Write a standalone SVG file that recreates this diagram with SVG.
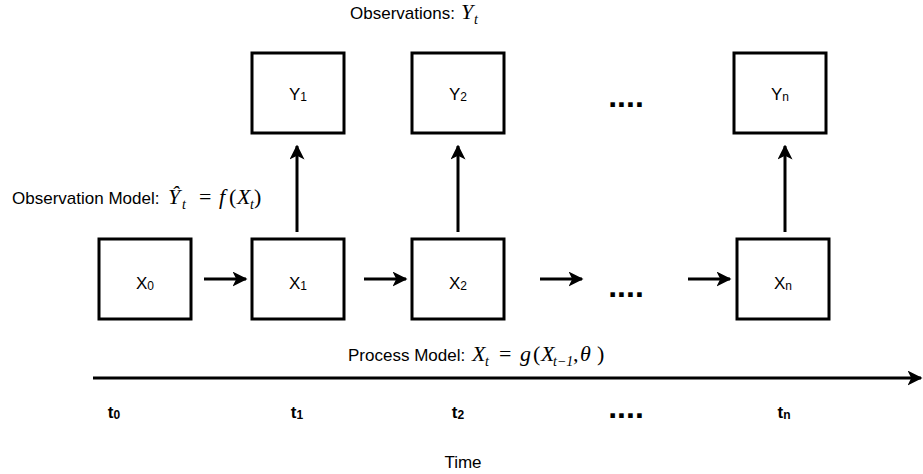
<svg xmlns="http://www.w3.org/2000/svg" width="923" height="474" viewBox="0 0 923 474">
  <defs>
    <marker id="arrow" viewBox="0 0 10 10" refX="9" refY="5" markerWidth="5" markerHeight="5" markerUnits="strokeWidth" orient="auto">
      <path d="M0,0 L10,5 L0,10 L2.5,5 Z" fill="#000"/>
    </marker>
    <style>
      .box { fill: #fff; stroke: #000; stroke-width: 3; }
      .lbl { font-family: "Liberation Sans", Arial, sans-serif; font-size: 17px; fill: #000; text-anchor: middle; }
      .txt { font-family: "Liberation Sans", Arial, sans-serif; font-size: 17px; fill: #000; }
      .mi { font-family: "Liberation Serif", "Times New Roman", serif; font-style: italic; font-size: 22px; }
      .mo { font-family: "Liberation Serif", "Times New Roman", serif; font-style: normal; font-size: 22px; }
      .ms { font-family: "Liberation Serif", "Times New Roman", serif; font-style: italic; font-size: 14px; }
      .sub { font-size: 12px; }
      .bold { font-weight: bold; }
      .dots { font-family: "Liberation Sans", Arial, sans-serif; font-size: 32px; font-weight: bold; text-anchor: middle; }
      .conn { stroke: #000; stroke-width: 3; fill: none; }
    </style>
  </defs>
  <rect width="923" height="474" fill="#fff"/>

  <!-- headings with inline math -->
  <text class="txt" x="350" y="19">Observations: <tspan class="mi" x="461">Y</tspan><tspan class="ms" x="474" y="24">t</tspan></text>
  <text class="txt" x="12" y="204">Observation Model: <tspan class="mi" x="168">Ŷ</tspan><tspan class="ms" x="182" y="209">t</tspan><tspan class="mo" x="199" y="204">=</tspan><tspan class="mi" x="219">f</tspan><tspan class="mo" x="229">(</tspan><tspan class="mi" x="237">X</tspan><tspan class="ms" x="250" y="209">t</tspan><tspan class="mo" x="254" y="204">)</tspan></text>
  <text class="txt" x="348" y="361">Process Model: <tspan class="mi" x="472">X</tspan><tspan class="ms" x="485" y="366">t</tspan><tspan class="mo" x="499" y="361">=</tspan><tspan class="mi" x="520">g</tspan><tspan class="mo" x="533">(</tspan><tspan class="mi" x="541">X</tspan><tspan class="ms" x="553" y="366">t−1</tspan><tspan class="mo" x="573" y="361">,</tspan><tspan class="mi" x="580">θ</tspan><tspan class="mo" x="597">)</tspan></text>

  <!-- observation nodes -->
  <g id="Y1"><rect class="box" x="252" y="53" width="92" height="80"/><text class="lbl" x="298" y="100">Y<tspan class="sub" dy="1">1</tspan></text></g>
  <g id="Y2"><rect class="box" x="412" y="53" width="92" height="80"/><text class="lbl" x="458" y="100">Y<tspan class="sub" dy="1">2</tspan></text></g>
  <g id="Ydots"><text class="dots" x="626" y="107">....</text></g>
  <g id="Yn"><rect class="box" x="734" y="53" width="92" height="80"/><text class="lbl" x="780" y="100">Y<tspan class="sub" dy="1">n</tspan></text></g>

  <!-- state nodes -->
  <g id="X0"><rect class="box" x="99" y="239" width="92" height="80"/><text class="lbl" x="145" y="289">X<tspan class="sub" dy="1">0</tspan></text></g>
  <g id="X1"><rect class="box" x="252" y="239" width="92" height="80"/><text class="lbl" x="298" y="289">X<tspan class="sub" dy="1">1</tspan></text></g>
  <g id="X2"><rect class="box" x="412" y="239" width="92" height="80"/><text class="lbl" x="458" y="289">X<tspan class="sub" dy="1">2</tspan></text></g>
  <g id="Xdots"><text class="dots" x="626" y="297">....</text></g>
  <g id="Xn"><rect class="box" x="737" y="239" width="92" height="80"/><text class="lbl" x="783" y="289">X<tspan class="sub" dy="1">n</tspan></text></g>

  <!-- connectors -->
  <g id="connectors">
    <line class="conn" x1="204" y1="279" x2="246" y2="279" marker-end="url(#arrow)"/>
    <line class="conn" x1="364" y1="279" x2="406" y2="279" marker-end="url(#arrow)"/>
    <line class="conn" x1="540" y1="279" x2="582" y2="279" marker-end="url(#arrow)"/>
    <line class="conn" x1="688" y1="279" x2="730" y2="279" marker-end="url(#arrow)"/>
    <line class="conn" x1="297" y1="232" x2="297" y2="146" marker-end="url(#arrow)"/>
    <line class="conn" x1="458" y1="232" x2="458" y2="146" marker-end="url(#arrow)"/>
    <line class="conn" x1="785" y1="232" x2="785" y2="146" marker-end="url(#arrow)"/>
    <line class="conn" x1="93" y1="378" x2="921" y2="378" marker-end="url(#arrow)"/>
  </g>

  <!-- time axis labels -->
  <text class="lbl bold" x="114" y="418">t<tspan class="sub" dy="1">0</tspan></text>
  <text class="lbl bold" x="297" y="418">t<tspan class="sub" dy="1">1</tspan></text>
  <text class="lbl bold" x="458" y="418">t<tspan class="sub" dy="1">2</tspan></text>
  <text class="dots" x="626" y="418">....</text>
  <text class="lbl bold" x="784" y="418">t<tspan class="sub" dy="1">n</tspan></text>
  <text class="lbl" x="463" y="468">Time</text>
</svg>
